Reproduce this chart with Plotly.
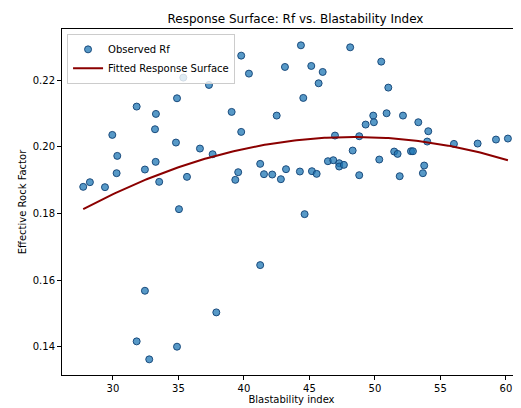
import numpy as np
import plotly.graph_objects as go

blast_index = [27.73, 28.24, 29.39, 29.95, 30.33, 30.28, 31.81, 32.44, 33.28, 33.21,
               33.26, 33.53, 34.89, 35.37, 34.81, 35.65, 36.64, 37.33, 37.61, 39.79,
               40.38, 39.06, 39.79, 39.56, 39.34, 41.24, 41.53, 42.16, 42.82, 43.21,
               42.50, 43.13, 44.35, 44.53, 44.27, 45.14, 45.19, 45.55, 45.70, 46.01,
               46.41, 46.82, 46.95, 47.27, 47.27, 47.63, 48.11, 48.30, 48.80, 48.80,
               50.48, 51.02, 50.89, 49.87, 49.92, 49.29, 50.33, 51.47, 51.73, 52.14,
               51.89, 52.75, 52.90, 53.31, 54.07, 53.99, 53.76, 53.66, 56.03, 57.84,
               59.24, 60.15, 35.04, 32.44, 31.81, 32.77, 34.89, 44.63, 41.24, 37.89]
rock_factor = [0.1880, 0.1894, 0.1879, 0.2036, 0.1973, 0.1921, 0.2121, 0.1932, 0.2099, 0.2053,
               0.1955, 0.1895, 0.2146, 0.2208, 0.2013, 0.1910, 0.1995, 0.2186, 0.1978, 0.2274,
               0.2220, 0.2105, 0.2045, 0.1924, 0.1901, 0.1949, 0.1918, 0.1917, 0.1903, 0.1933,
               0.2094, 0.2240, 0.2305, 0.2147, 0.1926, 0.2243, 0.1927, 0.1919, 0.2191, 0.2225,
               0.1957, 0.1960, 0.2034, 0.1951, 0.1941, 0.1946, 0.2299, 0.1989, 0.2032, 0.1915,
               0.2256, 0.2178, 0.2101, 0.2094, 0.2074, 0.2067, 0.1962, 0.1986, 0.1979, 0.2094,
               0.1912, 0.1987, 0.1987, 0.2074, 0.2047, 0.2016, 0.1944, 0.1921, 0.2009, 0.2010,
               0.2022, 0.2025, 0.1813, 0.1568, 0.1416, 0.1362, 0.1400, 0.1798, 0.1645, 0.1503]

# Fitted quadratic response surface: y = c2*x^2 + c1*x + c0 (vertex ~48.4, peak ~0.2030)
fit_coeffs = [-5.08e-5, 2 * 5.08e-5 * 48.4, 0.2030 - 5.08e-5 * 48.4 ** 2]

x_tick_vals = [30, 35, 40, 45, 50, 55, 60]
y_tick_vals = [0.14, 0.16, 0.18, 0.20, 0.22]

bx = np.array(blast_index)
x_fit = np.linspace(bx.min(), bx.max(), 200)
y_fit = np.polyval(fit_coeffs, x_fit)

fig = go.Figure()
fig.add_trace(go.Scatter(
    x=blast_index, y=rock_factor, mode="markers", name="Observed Rf",
    marker=dict(size=7, color="rgba(31,119,180,0.75)",
                line=dict(color="rgba(20,70,120,0.95)", width=1)),
))
fig.add_trace(go.Scatter(
    x=x_fit, y=y_fit, mode="lines", name="Fitted Response Surface",
    line=dict(color="#8b0000", width=2),
))

axis_common = dict(showline=True, linecolor="black", linewidth=1, mirror=True,
                   ticks="outside", ticklen=4, tickcolor="black", showgrid=False,
                   zeroline=False, automargin=False,
                   tickfont=dict(size=10, color="black"))

# The page body adds an 8px offset, so the figure is sized/margined to compensate.
fig.update_layout(
    width=513, height=400,
    margin=dict(l=54, r=0, t=21, b=33),
    paper_bgcolor="white", plot_bgcolor="white",
    font=dict(family="DejaVu Sans", size=10, color="black"),
    title=dict(text="Response Surface: Rf vs. Blastability Index", x=0.5604, xanchor="center",
               y=0.9725, yanchor="middle", font=dict(size=12, color="black")),
    xaxis=dict(range=[26.11, 61.15], tickvals=x_tick_vals,
               title=dict(text="Blastability index", font=dict(size=10), standoff=2),
               **axis_common),
    yaxis=dict(range=[0.1315, 0.2354], tickvals=y_tick_vals, tickformat=".2f",
               title=dict(text="Effective Rock Factor", font=dict(size=10), standoff=4),
               **axis_common),
    legend=dict(x=0.011, y=0.986, xanchor="left", yanchor="top",
                bgcolor="rgba(255,255,255,0.8)", bordercolor="#cccccc", borderwidth=1,
                font=dict(size=10), itemwidth=30, tracegroupgap=0),
    showlegend=True,
)

fig.write_html("out.html")
